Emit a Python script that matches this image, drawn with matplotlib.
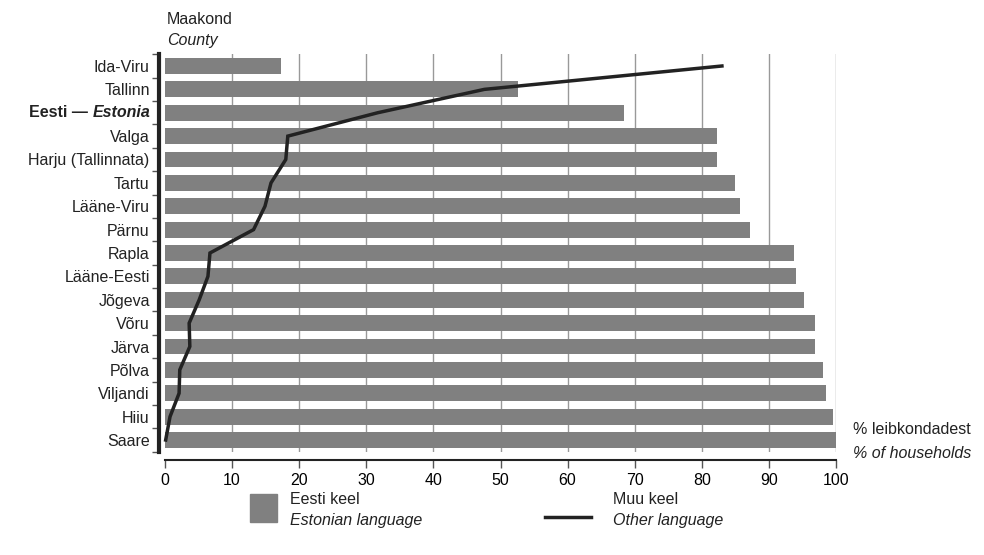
import matplotlib.pyplot as plt
from matplotlib.lines import Line2D
from matplotlib.patches import Rectangle

plt.rcParams['font.family'] = ['Liberation Sans', 'DejaVu Sans']

# Maakonnad (ülevalt alla)
counties = ["Ida-Viru", "Tallinn", "Eesti — Estonia", "Valga", "Harju (Tallinnata)",
            "Tartu", "Lääne-Viru", "Pärnu", "Rapla", "Lääne-Eesti", "Jõgeva",
            "Võru", "Järva", "Põlva", "Viljandi", "Hiiu", "Saare"]
# Eesti keel, % leibkondadest
estonian = [17.3, 52.6, 68.4, 82.2, 82.2, 84.9, 85.7, 87.2, 93.7, 94.0, 95.3,
            96.8, 96.8, 98.1, 98.5, 99.5, 100.0]
# Muu keel, % leibkondadest
other = [83.0, 47.6, 31.7, 18.3, 18.0, 15.8, 14.9, 13.2, 6.7, 6.4, 5.1,
         3.6, 3.7, 2.2, 2.1, 0.75, 0.1]
xticks = [0, 10, 20, 30, 40, 50, 60, 70, 80, 90, 100]

bar_color = '#808080'
line_color = '#222222'
fs = 11.5

fig = plt.figure(figsize=(9.84, 5.55), dpi=100)
ax = fig.add_axes([165 / 984, 1 - 451.7 / 555, 671 / 984, (451.7 - 54.3) / 555])

ypos = list(range(len(counties)))
ax.barh(ypos, estonian, height=0.68, color=bar_color, zorder=2)
ax.plot(other, ypos, color=line_color, lw=2.5, zorder=3, clip_on=False,
        solid_joinstyle='miter')

ax.set_xlim(0, 100)
ax.set_ylim(len(counties) - 0.5, -0.5)

# ruudustik
for x in xticks[1:]:
    ax.axvline(x, color='#999999', lw=1, zorder=1)

# teljed
for s in ['top', 'right']:
    ax.spines[s].set_visible(False)
ax.spines['left'].set_position(('outward', 4))
ax.spines['left'].set_linewidth(3)
ax.spines['left'].set_color('#222222')
ax.spines['bottom'].set_position(('outward', 6))
ax.spines['bottom'].set_linewidth(1.5)
ax.spines['bottom'].set_color('#222222')

ax.set_xticks(xticks)
ax.set_xticklabels([str(t) for t in xticks], fontsize=fs)
ax.tick_params(axis='x', direction='out', length=6, width=1, color='#555555', pad=3)

labels = [c if i != 2 else '' for i, c in enumerate(counties)]
ax.set_yticks(ypos)
ax.set_yticklabels(labels, fontsize=fs, color='#222222')
ax.set_yticks([y + 0.5 for y in [-1] + ypos], minor=True)
ax.tick_params(axis='y', which='major', length=0, pad=7)
ax.tick_params(axis='y', which='minor', length=5, width=1, color='#555555', direction='out')

# Eesti rida: paks + paks kaldkiri
est = ax.text(-15 / 671, 2, "Estonia", transform=ax.get_yaxis_transform(),
              ha='right', va='center', fontsize=fs, fontweight='bold',
              fontstyle='italic', color='#222222')
ax.annotate("Eesti — ", xy=(0, 0.5), xycoords=est, ha='right', va='center',
            fontsize=fs, fontweight='bold', color='#222222')

# pealkirjad
fig.text(167 / 984, 1 - 20 / 555, "Maakond", fontsize=fs, va='center', color='#222222')
fig.text(167 / 984, 1 - 41 / 555, "County", fontsize=fs, va='center',
         fontstyle='italic', color='#222222')
fig.text(853 / 984, 1 - 429 / 555, "% leibkondadest", fontsize=fs, va='center', color='#222222')
fig.text(853 / 984, 1 - 453 / 555, "% of households", fontsize=fs, va='center',
         fontstyle='italic', color='#222222')

# legend
fig.patches.append(Rectangle((250 / 984, 1 - 522 / 555), 27 / 984, 28 / 555,
                             transform=fig.transFigure, color=bar_color))
fig.text(290 / 984, 1 - 500 / 555, "Eesti keel", fontsize=fs, va='center', color='#222222')
fig.text(290 / 984, 1 - 521 / 555, "Estonian language", fontsize=fs, va='center',
         fontstyle='italic', color='#222222')
fig.lines.append(Line2D([545 / 984, 591 / 984], [1 - 517 / 555, 1 - 517 / 555],
                        transform=fig.transFigure, color=line_color, lw=2.5))
fig.text(613 / 984, 1 - 500 / 555, "Muu keel", fontsize=fs, va='center', color='#222222')
fig.text(613 / 984, 1 - 521 / 555, "Other language", fontsize=fs, va='center',
         fontstyle='italic', color='#222222')

fig.savefig('out.png', dpi=100)
